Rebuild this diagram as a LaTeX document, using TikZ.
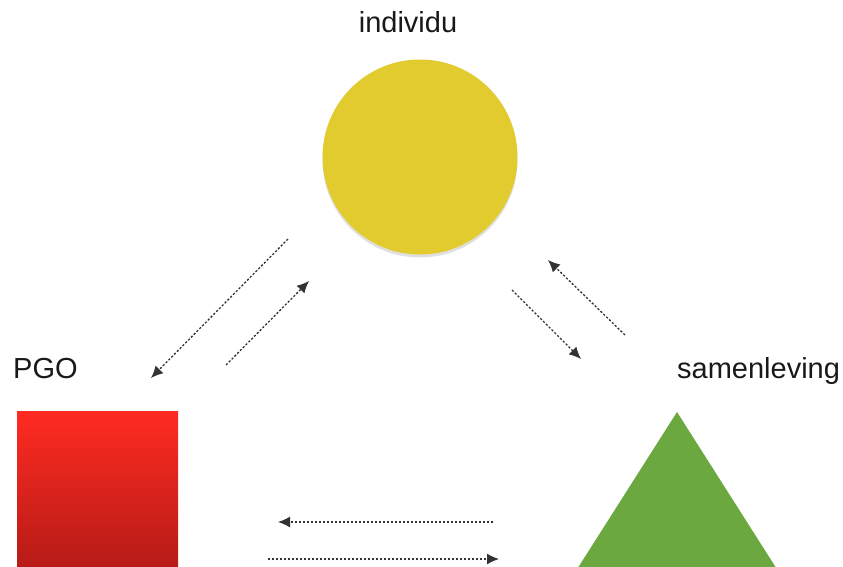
\documentclass[tikz,border=0pt]{standalone}
\usepackage{fontspec}
\setmainfont{Liberation Sans}
\usetikzlibrary{arrows.meta,shadows}
\definecolor{yel}{HTML}{E2CB2E}
\definecolor{grn}{HTML}{6BA840}
\definecolor{redtop}{HTML}{FF2B22}
\definecolor{redbot}{HTML}{B31A16}
\tikzset{
  lbl/.style={inner sep=0pt, font=\fontsize{29}{34}\selectfont, text=black!90},
  flow/.style={draw=black!80, line width=1.3pt, dash pattern=on 2.2pt off 1.8pt,
    -{Latex[length=12pt,width=11pt]}}
}
\begin{document}
\begin{tikzpicture}[x=1pt,y=-1pt]
\useasboundingbox (0,0) rectangle (843,567);
\clip (0,0) rectangle (843,567);
% shapes
\node[circle, fill=yel, minimum size=195pt, inner sep=0pt,
  drop shadow={opacity=0.25, shadow xshift=0pt, shadow yshift=-3pt}] (indiv) at (420,157) {};
\shade[top color=redtop, bottom color=redbot] (17,411) rectangle (178,575);
\node[inner sep=0pt, minimum width=161pt, minimum height=164pt] (pgo) at (97.5,493) {};
\coordinate (apex) at (677,412);
\coordinate (bl) at (567,585);
\coordinate (br) at (787,585);
\fill[grn] (apex) -- (bl) -- (br) -- cycle;
% labels
\node[lbl, anchor=base] (tindiv) at (408,33) {individu};
\node[lbl, anchor=base west] (tpgo) at (13,378) {PGO};
\node[lbl, anchor=base west] (tsam) at (677,378) {samenleving};
% arrow endpoints
\coordinate (a1) at (288,239); \coordinate (a2) at (151,378);
\coordinate (b1) at (226,365); \coordinate (b2) at (309,281);
\coordinate (c1) at (512,290); \coordinate (c2) at (581,359);
\coordinate (d1) at (625,335); \coordinate (d2) at (548,260);
\coordinate (e1) at (493,522); \coordinate (e2) at (278,522);
\coordinate (f1) at (268,559); \coordinate (f2) at (499,559);
\draw[flow] (a1) -- (a2);
\draw[flow] (b1) -- (b2);
\draw[flow] (c1) -- (c2);
\draw[flow] (d1) -- (d2);
\draw[flow] (e1) -- (e2);
\draw[flow] (f1) -- (f2);
\end{tikzpicture}
\end{document}
